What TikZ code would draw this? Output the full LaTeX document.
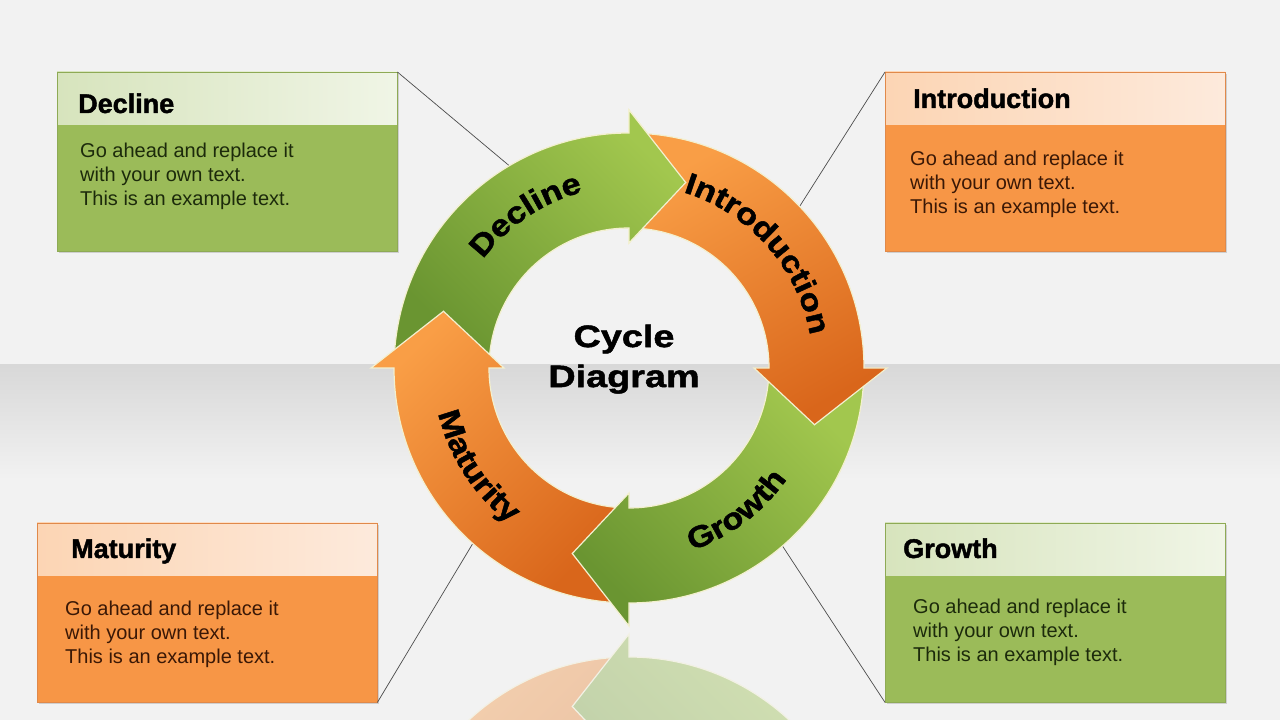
\documentclass[tikz,border=0pt]{standalone}
\usepackage{fontspec}
\setmainfont{Liberation Sans}
\newfontfamily\arcfont{Liberation Sans}[FakeStretch=1.15, BoldFeatures={FakeBold=1.6}]
\newfontfamily\ctrfont{Liberation Sans}[FakeStretch=1.22, BoldFeatures={FakeBold=1.6}]
\newfontfamily\headfont{Liberation Sans}[BoldFeatures={FakeBold=1.6}]
\usetikzlibrary{decorations.text,shadows,calc}
\definecolor{bgA}{HTML}{F2F2F2}
\definecolor{bgB}{HTML}{D8D8D8}
\definecolor{gLight}{HTML}{A2C74E}
\definecolor{gDark}{HTML}{6A9531}
\definecolor{oLight}{HTML}{F99E46}
\definecolor{oDark}{HTML}{D9661B}
\definecolor{rim}{HTML}{F3F0CF}
\definecolor{gBody}{HTML}{9BBB59}
\definecolor{gHeadL}{HTML}{D7E4BD}
\definecolor{gHeadR}{HTML}{F0F5E6}
\definecolor{oBody}{HTML}{F79646}
\definecolor{oHeadL}{HTML}{FCD5B4}
\definecolor{oHeadR}{HTML}{FDEADC}
\definecolor{gText}{HTML}{1C2A0B}
\definecolor{oText}{HTML}{3A1806}
\definecolor{gEdge}{HTML}{8EAA55}
\definecolor{oEdge}{HTML}{E0894A}
\newcommand\arcstyle{\arcfont\bfseries\fontsize{30pt}{30pt}\selectfont}
\newcommand\cyclearrow[2]{\path[#2] ({#1+86}:235pt) arc[start angle={#1+86}, end angle={#1}, radius=235pt] -- ({#1}:258pt) -- ({#1-17}:194pt) -- ({#1}:125pt) -- ({#1}:140pt) arc[start angle={#1}, end angle={#1+86}, radius=140pt] -- cycle;}
\newcommand\allarrows{%
  \cyclearrow{90}{garrow, shading angle=-45}
  \cyclearrow{180}{oarrow, shading angle=45}
  \cyclearrow{-90}{garrow, shading angle=-45}
  \cyclearrow{0}{oarrow, shading angle=30}
  \begin{scope}
    \clip (0,0) -- (100:300pt) arc[start angle=100, end angle=55, radius=300pt] -- cycle;
    \cyclearrow{90}{garrow, shading angle=-45}
  \end{scope}}
\begin{document}
\begin{tikzpicture}[x=1pt,y=1pt,
  infobox/.style={rectangle, anchor=north west, minimum width=340pt, minimum height=179pt, inner sep=0pt,
    drop shadow={shadow xshift=1.5pt, shadow yshift=-2pt, opacity=0.3}},
  headtext/.style={anchor=base west, inner sep=0pt, font=\headfont\bfseries\fontsize{27pt}{27pt}\selectfont},
  bodytext/.style={anchor=north west, inner sep=0pt, align=left, font=\fontsize{20pt}{24pt}\selectfont},
  conn/.style={draw=black!70, line width=0.7pt},
  garrow/.style={top color=gLight, bottom color=gDark, draw=rim, line width=1.2pt},
  oarrow/.style={top color=oLight, bottom color=oDark, draw=rim, line width=1.2pt}]
\useasboundingbox (0,0) rectangle (1280,720);
% background
\fill[bgA] (0,0) rectangle (1280,720);
\shade[top color=bgB, bottom color=bgA] (0,240) rectangle (1280,355);

% info boxes
\node[infobox, fill=gBody] (declbox) at (57,648) {};
\shade[left color=gHeadL, right color=gHeadR] (declbox.north west) rectangle ([yshift=-53pt]declbox.north east);
\draw[gEdge, line width=0.6pt] (declbox.south west) rectangle (declbox.north east);
\node[headtext] (declhead) at (78,607) {Decline};
\node[bodytext, text=gText] (decltext) at (80,577.5) {Go ahead and replace it\\with your own text.\\This is an example text.};

\node[infobox, fill=oBody] (introbox) at (885,648) {};
\shade[left color=oHeadL, right color=oHeadR] (introbox.north west) rectangle ([yshift=-53pt]introbox.north east);
\draw[oEdge, line width=0.6pt] (introbox.south west) rectangle (introbox.north east);
\node[headtext] (introhead) at (913,612) {Introduction};
\node[bodytext, text=oText] (introtext) at (910,569.5) {Go ahead and replace it\\with your own text.\\This is an example text.};

\node[infobox, fill=oBody] (matbox) at (37,197) {};
\shade[left color=oHeadL, right color=oHeadR] (matbox.north west) rectangle ([yshift=-53pt]matbox.north east);
\draw[oEdge, line width=0.6pt] (matbox.south west) rectangle (matbox.north east);
\node[headtext] (mathead) at (71,162) {Maturity};
\node[bodytext, text=oText] (mattext) at (65,119.5) {Go ahead and replace it\\with your own text.\\This is an example text.};

\node[infobox, fill=gBody] (growbox) at (885,197) {};
\shade[left color=gHeadL, right color=gHeadR] (growbox.north west) rectangle ([yshift=-53pt]growbox.north east);
\draw[gEdge, line width=0.6pt] (growbox.south west) rectangle (growbox.north east);
\node[headtext] (growhead) at (903,162) {Growth};
\node[bodytext, text=gText] (growtext) at (913,121.5) {Go ahead and replace it\\with your own text.\\This is an example text.};

% reflection
\begin{scope}
  \clip (0,0) rectangle (1280,90);
  \begin{scope}[transparency group, opacity=0.38, yshift=180pt, yscale=-1]
    \begin{scope}[shift={(629,352)}]
      \allarrows
    \end{scope}
  \end{scope}
\end{scope}

% connectors
\begin{scope}[shift={(629,352)}]
  \coordinate (declpt) at (120:228pt);
  \coordinate (intropt) at (43:228pt);
  \coordinate (matpt) at (228:228pt);
  \coordinate (growpt) at (311:228pt);
\end{scope}
\draw[conn] (declbox.north east) -- (declpt);
\draw[conn] (introbox.north west) -- (intropt);
\draw[conn] (matbox.south east) -- (matpt);
\draw[conn] (growbox.south west) -- (growpt);

% ring
\begin{scope}[shift={(629,352)}]
  \allarrows
  \path[decorate, decoration={text along path, text align=center, text={|\arcstyle|Decline}}]
    (184:182pt) arc[start angle=184, end angle=64, radius=182pt];
  \path[decorate, decoration={text along path, text align=center, text={|\arcstyle|Introduction}}]
    (101.5:184pt) arc[start angle=101.5, end angle=-18.5, radius=184pt];
  \path[decorate, decoration={text along path, text align=center, text={|\arcstyle|Growth}}]
    (-113:193pt) arc[start angle=-113, end angle=7, radius=193pt];
  \path[decorate, decoration={text along path, text align=center, text={|\arcstyle|Maturity}}]
    (153:196pt) arc[start angle=153, end angle=273, radius=196pt];
\end{scope}

\node[font=\ctrfont\bfseries\fontsize{31pt}{40pt}\selectfont, align=center, anchor=north, inner sep=0pt] (title) at (624,395.6) {Cycle\\Diagram};
\end{tikzpicture}
\end{document}
